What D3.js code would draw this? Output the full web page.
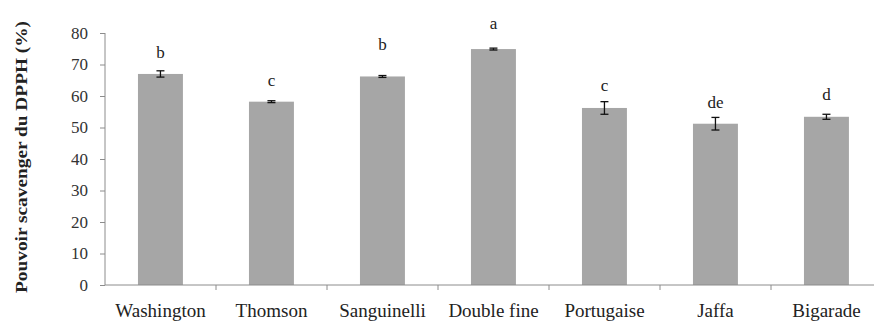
<!DOCTYPE html>
<html>
<head>
<meta charset="utf-8">
<script src="https://cdn.jsdelivr.net/npm/d3@7/dist/d3.min.js"></script>
<style>
  html, body { margin: 0; padding: 0; background: #fff; }
  svg { display: block; }
  svg text { font-family: 'Liberation Serif', 'DejaVu Serif', serif; }
</style>
</head>
<body>
<div id="chart"></div>
<script>
(function(d3) {
  'use strict';

  var varieties = ['Washington', 'Thomson', 'Sanguinelli', 'Double fine', 'Portugaise', 'Jaffa', 'Bigarade'];
  var scavenging = [67.0, 58.2, 66.2, 74.9, 56.2, 51.2, 53.4];
  var errors = [1.0, 0.3, 0.3, 0.3, 2.0, 2.0, 0.8];
  var letters = ['b', 'c', 'b', 'a', 'c', 'de', 'd'];
  var letterAt = [72.1, 63.2, 74.6, 81.3, 61.6, 56.2, 58.7];
  var yTicks = [0, 10, 20, 30, 40, 50, 60, 70, 80];

  var width = 874, height = 322;
  var left = 105, bottom = 285, top = 33, right = 882;

  var svg = d3.select('#chart').append('svg')
    .attr('width', width)
    .attr('height', height);

  var x = d3.scaleBand().domain(varieties).range([left, right]).padding(0);
  var y = d3.scaleLinear().domain([0, 80]).range([bottom, top]);

  var axisColor = '#8c8c8c';

  // bars
  var barW = x.bandwidth() * 0.405;
  var barX = function(d, i) { return x(varieties[i]) + x.bandwidth() * 0.297; };

  svg.selectAll('rect.bar').data(scavenging).enter().append('rect')
    .attr('class', 'bar')
    .attr('x', barX)
    .attr('y', function(d) { return y(d); })
    .attr('width', barW)
    .attr('height', function(d) { return y(0) - y(d); })
    .attr('fill', '#a6a6a6');

  // error bars
  var cx = function(i) { return barX(null, i) + barW / 2; };
  var eb = svg.selectAll('g.err').data(scavenging).enter().append('g')
    .attr('class', 'err')
    .attr('stroke', '#111')
    .attr('stroke-width', 1.3);
  eb.append('line')
    .attr('x1', function(d, i) { return cx(i); })
    .attr('x2', function(d, i) { return cx(i); })
    .attr('y1', function(d, i) { return y(d - errors[i]); })
    .attr('y2', function(d, i) { return y(d + errors[i]); });
  [-1, 1].forEach(function(s) {
    eb.append('line')
      .attr('x1', function(d, i) { return cx(i) - 4; })
      .attr('x2', function(d, i) { return cx(i) + 4; })
      .attr('y1', function(d, i) { return y(d + s * errors[i]); })
      .attr('y2', function(d, i) { return y(d + s * errors[i]); });
  });

  // significance letters
  svg.selectAll('text.sig').data(letters).enter().append('text')
    .attr('class', 'sig')
    .attr('x', function(d, i) { return cx(i); })
    .attr('y', function(d, i) { return y(letterAt[i]); })
    .attr('text-anchor', 'middle')
    .attr('font-size', 17)
    .attr('fill', '#222')
    .text(function(d) { return d; });

  // y axis
  var yAxis = svg.append('g')
    .attr('transform', 'translate(' + left + ',0)')
    .call(d3.axisLeft(y).tickValues(yTicks).tickSize(5).tickPadding(12))
    .attr('font-family', null);
  yAxis.select('.domain').attr('stroke', axisColor).attr('d', 'M0,' + top + 'V' + bottom);
  yAxis.selectAll('.tick line').attr('stroke', axisColor);
  yAxis.selectAll('.tick text')
    .attr('font-size', 17)
    .attr('fill', '#333');

  // x axis
  var xAxis = svg.append('g')
    .attr('transform', 'translate(0,' + bottom + ')')
    .call(d3.axisBottom(x).tickSize(0).tickPadding(19))
    .attr('font-family', null);
  xAxis.select('.domain').attr('stroke', axisColor).attr('d', 'M' + left + ',0H' + right);
  xAxis.selectAll('.tick text')
    .attr('font-size', 19)
    .attr('fill', '#222');

  // tick marks between categories
  svg.selectAll('line.sep').data(varieties.slice(1)).enter().append('line')
    .attr('class', 'sep')
    .attr('x1', function(d) { return x(d); })
    .attr('x2', function(d) { return x(d); })
    .attr('y1', bottom)
    .attr('y2', bottom + 5)
    .attr('stroke', axisColor);

  // y axis title
  svg.append('text')
    .attr('transform', 'translate(27,' + ((top + bottom) / 2 - 2) + ') rotate(-90)')
    .attr('text-anchor', 'middle')
    .attr('font-weight', 'bold')
    .attr('font-size', 16)
    .attr('textLength', 272)
    .attr('lengthAdjust', 'spacingAndGlyphs')
    .attr('fill', '#222')
    .text('Pouvoir scavenger du DPPH (%)');

}(d3));
</script>
</body>
</html>
